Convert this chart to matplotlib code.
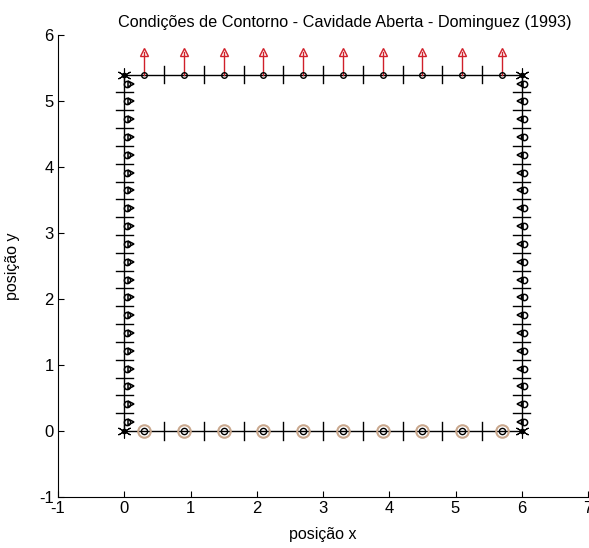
import numpy as np
import matplotlib
matplotlib.use('Agg')
import matplotlib.pyplot as plt

plt.rcParams['font.family'] = ['Liberation Sans', 'DejaVu Sans']
plt.rcParams['axes.unicode_minus'] = False

# Cavity geometry and mesh
L = 6.0
H = 5.4
n_horiz = 10      # elements on top and bottom
n_vert = 20       # elements on each side wall

x_nodes = np.linspace(0, L, n_horiz + 1)
y_nodes = np.linspace(0, H, n_vert + 1)
x_mid = (x_nodes[:-1] + x_nodes[1:]) / 2
y_mid = (y_nodes[:-1] + y_nodes[1:]) / 2

arrow_len = 0.35
tick_half = 0.13

fig = plt.figure(figsize=(5.89, 5.48), dpi=100)
ax = fig.add_axes([58 / 589, 51 / 548, 530 / 589, 462 / 548])

# boundary outline
ax.plot([0, L, L, 0, 0], [0, 0, H, H, 0], color='k', lw=1)

# element separators
for xn in x_nodes[1:-1]:
    ax.plot([xn, xn], [-tick_half, tick_half], color='k', lw=1)
    ax.plot([xn, xn], [H - tick_half, H + tick_half], color='k', lw=1)
for yn in y_nodes[1:-1]:
    ax.plot([-tick_half, tick_half], [yn, yn], color='k', lw=1)
    ax.plot([L - tick_half, L + tick_half], [yn, yn], color='k', lw=1)

# open top: outflow arrows
for xm in x_mid:
    ax.plot([xm, xm], [H, H + arrow_len], color='#d0202a', lw=1)
ax.plot(x_mid, np.full_like(x_mid, H + arrow_len), '^', ms=6,
        mfc='none', mec='#d0202a', mew=1)
ax.plot(x_mid, np.full_like(x_mid, H), 'o', ms=4, mfc='none', mec='k', mew=1)

# bottom wall
ax.plot(x_mid, np.zeros_like(x_mid), 'o', ms=9, mfc='none', mec='#c9a88e', mew=1.5)
ax.plot(x_mid, np.zeros_like(x_mid), 'o', ms=4.5, mfc='none', mec='k', mew=1)

# side walls
ax.plot(np.full_like(y_mid, 0.04), y_mid, 'o', ms=4.5, mfc='none', mec='k', mew=1.1)
ax.plot(np.full_like(y_mid, 0.1), y_mid, '>', ms=4, mfc='none', mec='k', mew=1.1)
ax.plot(np.full_like(y_mid, L + 0.04), y_mid, 'o', ms=4.5, mfc='none', mec='k', mew=1.1)
ax.plot(np.full_like(y_mid, L - 0.02), y_mid, '<', ms=4, mfc='none', mec='k', mew=1.1)

# corners
cx = [0, L, L, 0]
cy = [0, 0, H, H]
ax.plot(cx, cy, marker=(6, 2, 0), ls='none', ms=10, color='k', mew=0.8)
ax.plot(cx, cy, '.', ms=6, color='k')

ax.set_xlim(-1, 7)
ax.set_ylim(-1, 6)
ax.set_xticks(np.arange(-1, 8))
ax.set_yticks(np.arange(-1, 7))
ax.spines['top'].set_visible(False)
ax.spines['right'].set_visible(False)
ax.tick_params(direction='in', length=4, labelsize=12, pad=3)
ax.set_xlabel('posição x', fontsize=11.5, labelpad=8)
ax.set_ylabel('posição y', fontsize=11.5, labelpad=14)
ax.set_title('Condições de Contorno - Cavidade Aberta - Dominguez (1993)',
             fontsize=11.7, x=(345 - 58) / 530)

fig.savefig('out.png', dpi=100)
